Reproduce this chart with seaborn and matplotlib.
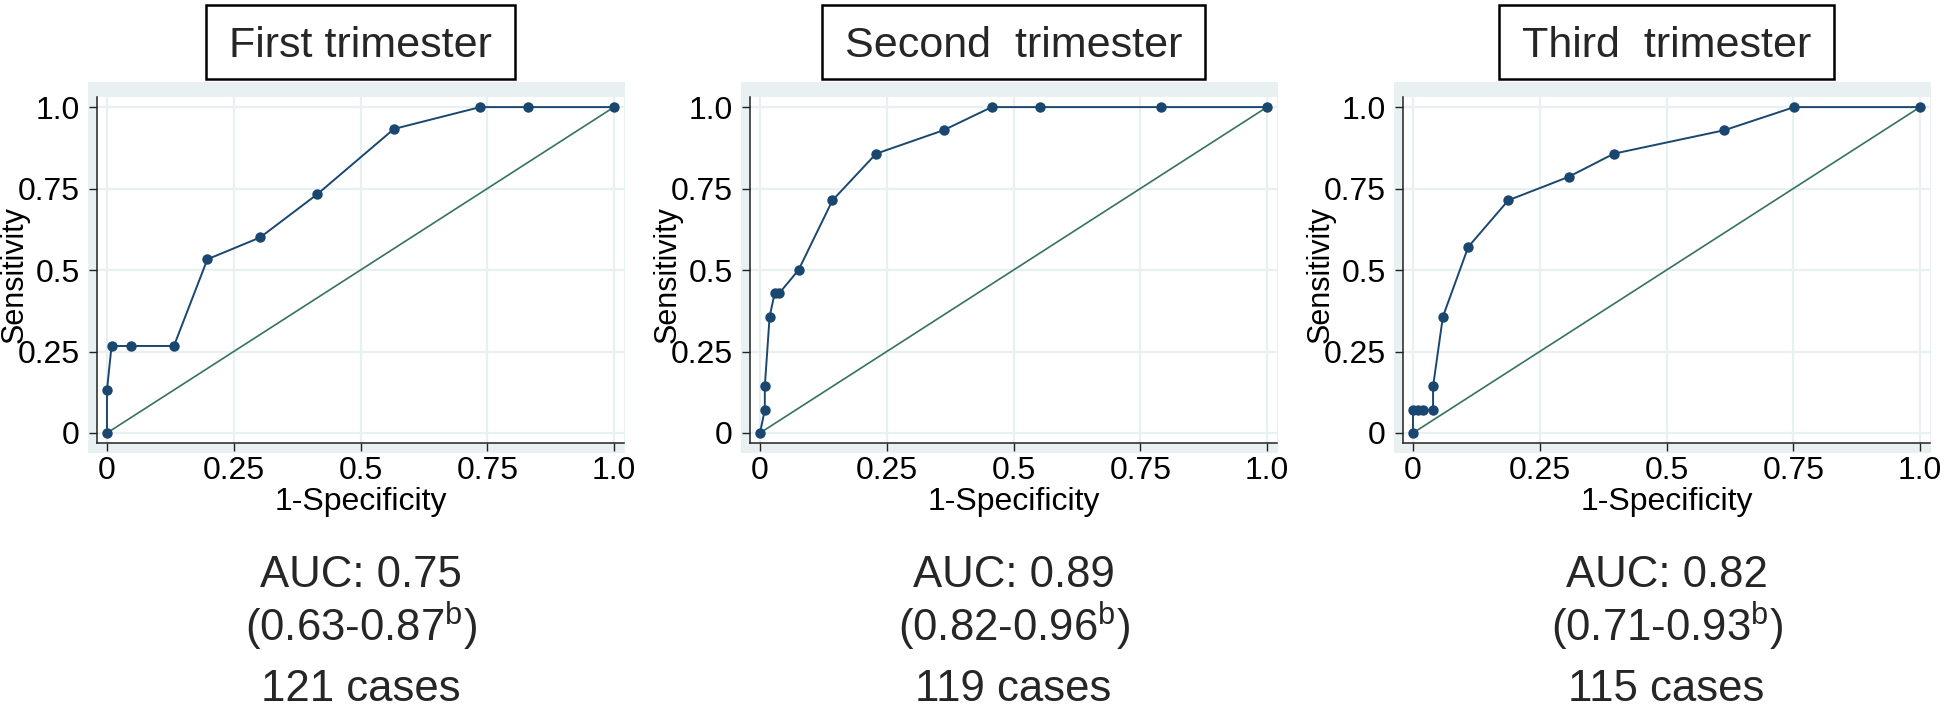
import matplotlib
matplotlib.use("Agg")
import matplotlib.pyplot as plt
from matplotlib.patches import Rectangle
import seaborn as sns
import pandas as pd

# ROC points (1-specificity, sensitivity)
first_fpr = [0, 0, 0.009, 0.047, 0.132, 0.198, 0.302, 0.415, 0.566, 0.736, 0.830, 1.0]
first_sens = [0, 0.133, 0.267, 0.267, 0.267, 0.533, 0.600, 0.733, 0.933, 1.0, 1.0, 1.0]

second_fpr = [0, 0.0095, 0.0095, 0.019, 0.029, 0.038, 0.076, 0.143, 0.229, 0.362, 0.457, 0.552, 0.790, 1.0]
second_sens = [0, 0.071, 0.143, 0.357, 0.429, 0.429, 0.5, 0.714, 0.857, 0.929, 1.0, 1.0, 1.0, 1.0]

third_fpr = [0, 0, 0.0099, 0.0198, 0.0396, 0.0396, 0.059, 0.109, 0.188, 0.307, 0.396, 0.614, 0.752, 1.0]
third_sens = [0, 0.071, 0.071, 0.071, 0.071, 0.143, 0.357, 0.571, 0.714, 0.786, 0.857, 0.929, 1.0, 1.0]

ref_line = [0, 1]

titles = ["First trimester", "Second  trimester", "Third  trimester"]
auc_text = ["AUC: 0.75", "AUC: 0.89", "AUC: 0.82"]
ci_text = ["(0.63-0.87$^{\\mathrm{b}}$)", "(0.82-0.96$^{\\mathrm{b}}$)", "(0.71-0.93$^{\\mathrm{b}}$)"]
cases_text = ["121 cases", "119 cases", "115 cases"]

ticks = [0, 0.25, 0.5, 0.75, 1.0]
tick_labels = ["0", "0.25", "0.5", "0.75", "1.0"]

curves = [(first_fpr, first_sens), (second_fpr, second_sens), (third_fpr, third_sens)]

sns.set_theme(style="white")
plt.rcParams['font.family'] = ['Liberation Sans', 'DejaVu Sans']
plt.rcParams['mathtext.fontset'] = 'custom'
plt.rcParams['mathtext.rm'] = 'Liberation Sans'

navy = "#1a476f"
diag_col = "#357260"
band_col = "#e8f0f2"

W, H = 1951, 708
fig = plt.figure(figsize=(W / 100, H / 100), dpi=100)
fig.patch.set_facecolor("white")

lefts = [97, 750, 1403]
ax_w, ax_top, ax_bot = 527, 97, 443

for i, (fpr, sens) in enumerate(curves):
    L = lefts[i]
    ax = fig.add_axes([L / W, 1 - ax_bot / H, ax_w / W, (ax_bot - ax_top) / H])
    # light plot-region band behind the axes
    fig.add_artist(Rectangle(((L - 9) / W, 1 - (ax_bot + 10) / H), (ax_w + 1 + 9) / W,
                             (ax_bot + 10 - (ax_top - 15)) / H, transform=fig.transFigure,
                             facecolor=band_col, edgecolor="none", zorder=-5))
    df = pd.DataFrame({"fpr": fpr, "sens": sens})
    sns.lineplot(x=ref_line, y=ref_line, ax=ax, color=diag_col, lw=1.2, zorder=2)
    sns.lineplot(data=df, x="fpr", y="sens", ax=ax, sort=False, estimator=None,
                 color=navy, lw=1.4, marker="o", markersize=7.5, markeredgewidth=0, zorder=3)
    ax.set_xlim(-0.0197, 1.0197)
    ax.set_ylim(-0.0307, 1.031)
    ax.set_xticks(ticks)
    ax.set_xticklabels(tick_labels)
    ax.set_yticks(ticks)
    ax.set_yticklabels(tick_labels)
    ax.grid(True, color=band_col, lw=1.6)
    ax.set_axisbelow(True)
    for s in ["top", "right"]:
        ax.spines[s].set_visible(False)
    for s in ["left", "bottom"]:
        ax.spines[s].set_color("#222222")
        ax.spines[s].set_linewidth(1.1)
    ax.tick_params(axis="both", direction="out", length=5.5, width=1, color="#222222",
                   labelsize=23, labelcolor="black", left=True, bottom=True)
    ax.tick_params(axis="x", pad=4)
    ax.tick_params(axis="y", pad=7)
    ax.set_xlabel("1-Specificity", fontsize=23, color="black")
    ax.set_ylabel("Sensitivity", fontsize=22, color="black")
    ax.xaxis.set_label_coords(0.5, -0.128)
    ax.yaxis.set_label_coords(-0.128, 0.486)

    cx = (L + ax_w / 2) / W
    fig.text(cx, 1 - 587 / H, auc_text[i], ha="center", va="baseline", fontsize=31.5)
    fig.text(cx, 1 - 641 / H, ci_text[i], ha="center", va="baseline", fontsize=31.5)
    fig.text(cx, 1 - 701 / H, cases_text[i], ha="center", va="baseline", fontsize=31.5)

# boxed panel titles
title_objs = []
for i in range(3):
    cx = (lefts[i] + ax_w / 2) / W
    t = fig.text(cx, 1 - 57 / H, titles[i], ha="center", va="baseline", fontsize=31)
    title_objs.append(t)

fig.canvas.draw()
renderer = fig.canvas.get_renderer()
for t in title_objs:
    bb = t.get_window_extent(renderer)
    x0, x1 = bb.x0 - 23, bb.x1 + 23
    fig.add_artist(Rectangle((x0 / W, 1 - 79 / H), (x1 - x0) / W, 74 / H,
                             transform=fig.transFigure, facecolor="none",
                             edgecolor="black", lw=1.8, zorder=5))

fig.savefig("out.png", dpi=100)
